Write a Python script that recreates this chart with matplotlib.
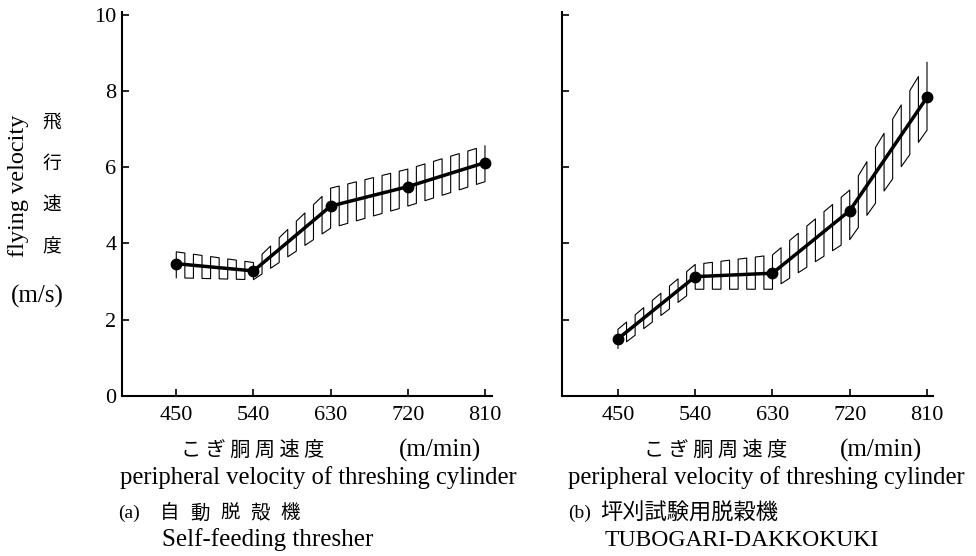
# 脱穀機のこぎ胴周速度と飛行速度 (a) 自動脱穀機, (b) 坪刈試験用脱穀機

import matplotlib
matplotlib.use("Agg")
import matplotlib.pyplot as plt
import numpy as np

plt.rcParams['font.family'] = ['Liberation Serif', 'Noto Sans CJK JP', 'DejaVu Sans']

x = [450, 540, 630, 720, 810]  # こぎ胴周速度 m/min

# (a) 自動脱穀機
a_mean = [3.47, 3.28, 4.98, 5.49, 6.12]
a_upper = [3.78, 3.50, 5.45, 5.95, 6.56]
a_lower = [3.10, 3.05, 4.40, 4.98, 5.62]

# (b) 坪刈試験用脱穀機
b_mean = [1.50, 3.13, 3.22, 4.86, 7.83]
b_upper = [1.75, 3.45, 3.70, 5.40, 8.75]
b_lower = [1.25, 2.80, 2.80, 4.10, 6.97]

yticks = [0, 2, 4, 6, 8, 10]

W, H = 976, 556
def fx(p): return p / W
def fy(p): return 1 - p / H

fig = plt.figure(figsize=(9.76, 5.56), dpi=100)
ax_a = fig.add_axes([fx(122), fy(396), 370 / W, 384 / H])
ax_b = fig.add_axes([fx(562), fy(396), 371 / W, 384 / H])


def meander(ax, xs, lo, hi, step=10.0):
    # banda dibujada como onda cuadrada entre límites inferior y superior
    hx = np.arange(xs[0], xs[-1] + 0.01, step)
    h_hi = np.interp(hx, xs, hi)
    h_lo = np.interp(hx, xs, lo)
    px, py = [], []
    for i, v in enumerate(hx):
        px += [v, v]
        if i % 2 == 0:
            py += [h_lo[i], h_hi[i]]
        else:
            py += [h_hi[i], h_lo[i]]
    ax.plot(px, py, color='black', lw=0.8)


for ax, m, lo, hi, xl in [(ax_a, a_mean, a_lower, a_upper, (386.7, 818.2)),
                          (ax_b, b_mean, b_lower, b_upper, (384.8, 817.0))]:
    meander(ax, x, lo, hi)
    ax.plot(x, m, color='black', lw=2.5, marker='o', ms=7.5)
    ax.set_xlim(*xl)
    ax.set_ylim(0, 10.07)
    ax.set_xticks(x)
    ax.set_yticks(yticks)
    ax.spines['top'].set_visible(False)
    ax.spines['right'].set_visible(False)
    ax.spines['left'].set_linewidth(1.5)
    ax.spines['bottom'].set_linewidth(1.5)
    ax.tick_params(direction='in', length=5, width=1.2, labelsize=16)
    ax.tick_params(axis='x', pad=7)
    ax.tick_params(axis='y', pad=4)

ax_b.set_yticklabels([])

# 縦軸ラベル
fig.text(fx(19), fy(186), "flying velocity", rotation=90, ha='center', va='center', fontsize=17.5)
for ch, yy in zip("飛行速度", [122, 163, 205, 247]):
    fig.text(fx(52), fy(yy), ch, ha='center', va='center', fontsize=13.5,
             family='Noto Sans CJK JP')
fig.text(fx(37), fy(296), "(m/s)", ha='center', va='center', fontsize=18)

# 横軸ラベル
for x0, xmm, xp in [(253, 440, 120), (716, 881, 568)]:
    fig.text(fx(x0), fy(450), "こ ぎ 胴 周 速 度", ha='center', va='center', fontsize=14.5,
             family='Noto Sans CJK JP')
    fig.text(fx(xmm), fy(450), "(m/min)", ha='center', va='center', fontsize=18)
    fig.text(fx(xp), fy(478), "peripheral velocity of threshing cylinder",
             ha='left', va='center', fontsize=17.7)

fig.text(fx(118), fy(513), "(a)", ha='left', va='center', fontsize=14)
for i, ch in enumerate("自動脱殻機"):
    fig.text(fx(170 + 30 * i), fy(513), ch, ha='center', va='center', fontsize=14,
             family='Noto Sans CJK JP')
fig.text(fx(162), fy(540), "Self-feeding thresher", ha='left', va='center', fontsize=18)

fig.text(fx(568), fy(513), "(b)", ha='left', va='center', fontsize=14)
fig.text(fx(600), fy(513), "坪刈試験用脱穀機", ha='left', va='center', fontsize=16,
         family='Noto Sans CJK JP')
fig.text(fx(605), fy(540), "TUBOGARI-DAKKOKUKI", ha='left', va='center', fontsize=17)

fig.savefig("out.png", dpi=100)
